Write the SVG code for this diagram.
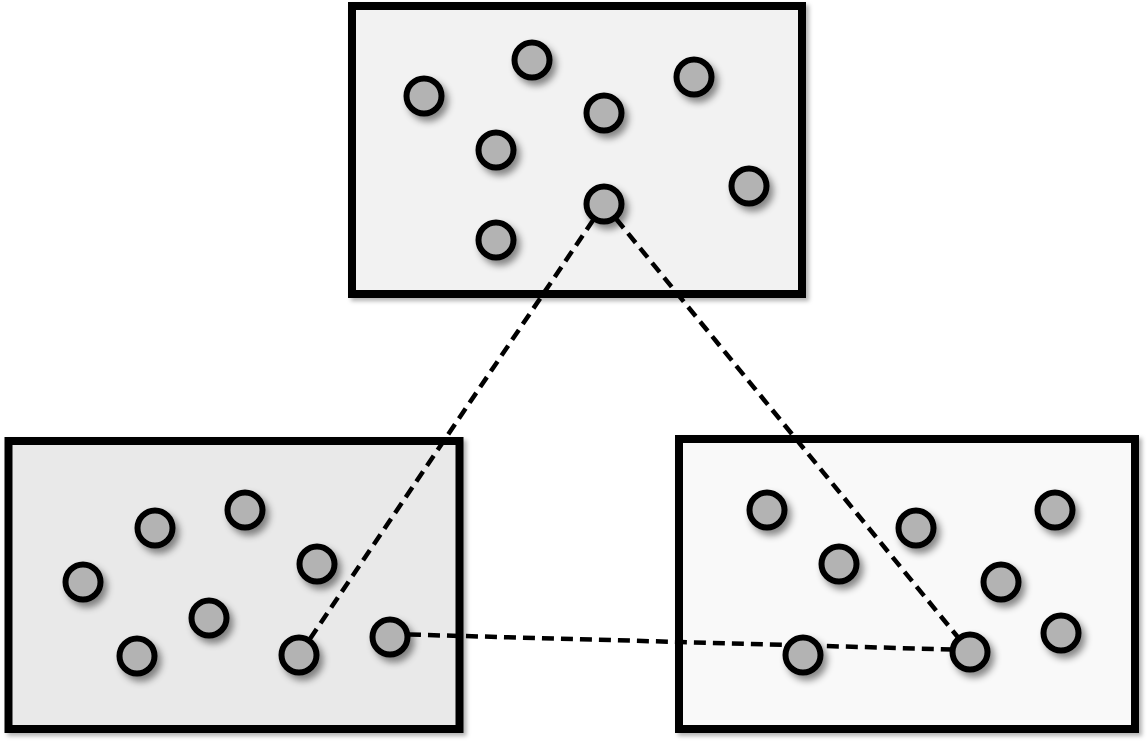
<svg xmlns="http://www.w3.org/2000/svg" width="1148" height="748" viewBox="0 0 1148 748">
<defs>
<filter id="sh" x="-40%" y="-40%" width="190%" height="190%">
<feDropShadow dx="4" dy="5" stdDeviation="3.5" flood-color="#000" flood-opacity="0.45"/>
</filter>
<filter id="bsh" x="-5%" y="-5%" width="110%" height="110%">
<feDropShadow dx="3" dy="3" stdDeviation="2" flood-color="#000" flood-opacity="0.3"/>
</filter>
</defs>
<style>
.box{stroke:#000;stroke-width:8;filter:url(#bsh)}
.n{fill:#b3b3b3;stroke:#000;stroke-width:6;filter:url(#sh)}
.c{fill:none;stroke:#000;stroke-width:4.5;stroke-dasharray:12 7}
</style>
<rect width="1148" height="748" fill="#fff"/>
<g id="box-top">
<rect class="box" x="352" y="6" width="450" height="288" fill="#f2f2f2"/>
</g>
<g id="box-left">
<rect class="box" x="8.5" y="441" width="451" height="288" fill="#e9e9e9"/>
</g>
<g id="box-right">
<rect class="box" x="679" y="439" width="456" height="290" fill="#f9f9f9"/>
</g>
<g id="connectors">
<line class="c" x1="604" y1="204" x2="299" y2="655"/>
<line class="c" x1="604" y1="204" x2="970" y2="652"/>
<line class="c" x1="390" y1="634" x2="970" y2="650"/>
</g>
<g id="nodes-top">
<circle class="n" cx="424" cy="96" r="17.5"/>
<circle class="n" cx="532" cy="60" r="17.5"/>
<circle class="n" cx="604" cy="113" r="17.5"/>
<circle class="n" cx="694" cy="77" r="17.5"/>
<circle class="n" cx="496" cy="150" r="17.5"/>
<circle class="n" cx="749" cy="186" r="17.5"/>
<circle class="n" cx="604" cy="204" r="17.5"/>
<circle class="n" cx="496" cy="240" r="17.5"/>
</g>
<g id="nodes-left">
<circle class="n" cx="155" cy="528" r="17.5"/>
<circle class="n" cx="245" cy="510" r="17.5"/>
<circle class="n" cx="317" cy="564" r="17.5"/>
<circle class="n" cx="83" cy="582" r="17.5"/>
<circle class="n" cx="209" cy="618" r="17.5"/>
<circle class="n" cx="137" cy="656" r="17.5"/>
<circle class="n" cx="299" cy="655" r="17.5"/>
<circle class="n" cx="390" cy="637" r="17.5"/>
</g>
<g id="nodes-right">
<circle class="n" cx="767" cy="510" r="17.5"/>
<circle class="n" cx="916" cy="528" r="17.5"/>
<circle class="n" cx="1055" cy="510" r="17.5"/>
<circle class="n" cx="839" cy="564" r="17.5"/>
<circle class="n" cx="1001" cy="582" r="17.5"/>
<circle class="n" cx="1061" cy="633" r="17.5"/>
<circle class="n" cx="803" cy="655" r="17.5"/>
<circle class="n" cx="970" cy="652" r="17.5"/>
</g>
</svg>
